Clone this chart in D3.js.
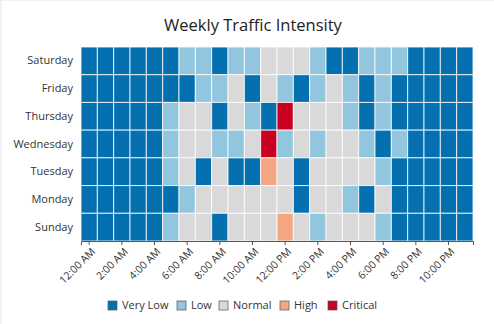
<!DOCTYPE html>
<html>
<head>
<meta charset="utf-8">
<script src="https://cdn.jsdelivr.net/npm/d3@7"></script>
<style>
  body { margin: 0; background: #fff; }
  #chart { width: 492px; height: 323px; border-left: 2px solid #eef3f6; border-top: 1px solid #eef3f6; }
  text { font-family: "Open Sans", "Noto Sans", sans-serif; }
</style>
</head>
<body>
<div id="chart"></div>
<script>
// rows top to bottom
const days = ['Saturday', 'Friday', 'Thursday', 'Wednesday', 'Tuesday', 'Monday', 'Sunday'];
const hours = ['12:00 AM', '1:00 AM', '2:00 AM', '3:00 AM', '4:00 AM', '5:00 AM', '6:00 AM', '7:00 AM',
  '8:00 AM', '9:00 AM', '10:00 AM', '11:00 AM', '12:00 PM', '1:00 PM', '2:00 PM', '3:00 PM',
  '4:00 PM', '5:00 PM', '6:00 PM', '7:00 PM', '8:00 PM', '9:00 PM', '10:00 PM', '11:00 PM'];
const levels = ['Very Low', 'Low', 'Normal', 'High', 'Critical'];
const levelColors = ['#0570b0', '#92c5de', '#d9d9d9', '#f4a582', '#ca0020'];

// intensity level index per hour, one array per day
const saturday  = [0,0,0,0,0,0,1,1,0,1,1,2,2,2,1,0,0,1,1,1,0,0,0,0];
const friday    = [0,0,0,0,0,0,0,1,1,2,0,2,1,0,1,2,1,0,1,0,0,0,0,0];
const thursday  = [0,0,0,0,0,1,2,2,0,2,1,0,4,2,2,2,1,0,1,0,0,0,0,0];
const wednesday = [0,0,0,0,0,1,2,2,1,1,2,4,1,2,1,2,2,1,0,1,0,0,0,0];
const tuesday   = [0,0,0,0,0,1,2,0,2,0,0,3,2,0,2,2,2,2,1,0,0,0,0,0];
const monday    = [0,0,0,0,0,0,1,2,2,2,2,2,2,0,2,2,1,0,2,0,0,0,0,0];
const sunday    = [0,0,0,0,0,1,2,2,0,2,2,2,3,2,1,2,2,2,1,0,0,0,0,0];
const rows = [saturday, friday, thursday, wednesday, tuesday, monday, sunday];

const cells = [];
rows.forEach((r, i) => r.forEach((v, j) => cells.push({day: days[i], hour: hours[j], level: v})));

const width = 492, height = 323;
const margin = {top: 46, right: 21, bottom: 83, left: 79};

const svg = d3.select('#chart').append('svg')
  .attr('width', width).attr('height', height);

const x = d3.scaleBand().domain(hours).range([margin.left, width - margin.right]);
const y = d3.scaleBand().domain(days).range([margin.top, height - margin.bottom]);
const color = d3.scaleOrdinal().domain(d3.range(levels.length)).range(levelColors);

svg.append('text')
  .attr('x', 251).attr('y', 30)
  .attr('text-anchor', 'middle')
  .attr('font-size', 16.5)
  .attr('fill', '#222')
  .text('Weekly Traffic Intensity');

svg.append('g')
  .selectAll('rect')
  .data(cells)
  .join('rect')
  .attr('x', d => x(d.hour))
  .attr('y', d => y(d.day))
  .attr('width', x.bandwidth())
  .attr('height', y.bandwidth())
  .attr('fill', d => color(d.level))
  .attr('stroke', '#fff')
  .attr('stroke-opacity', 0.8)
  .attr('stroke-width', 1);

// x axis, labelled every 2 hours
const xAxis = svg.append('g')
  .attr('transform', `translate(0,${height - margin.bottom})`)
  .call(d3.axisBottom(x).tickValues(hours.filter((h, i) => i % 2 === 0)).tickSizeOuter(0).tickSize(4));
xAxis.select('.domain').attr('stroke', '#555');
xAxis.selectAll('.tick line').attr('stroke', '#555');
xAxis.selectAll('text')
  .attr('font-size', 10.5)
  .attr('fill', '#333')
  .attr('text-anchor', 'end')
  .attr('dx', '-0.3em')
  .attr('dy', '0.55em')
  .attr('transform', 'rotate(-45)');

const yAxis = svg.append('g')
  .attr('transform', `translate(${margin.left},0)`)
  .call(d3.axisLeft(y).tickSize(0).tickPadding(8));
yAxis.select('.domain').remove();
yAxis.selectAll('text').attr('font-size', 11).attr('fill', '#333');

// legend
const legendX = [106, 175, 217, 278, 326];
const legend = svg.append('g')
  .selectAll('g')
  .data(levels)
  .join('g')
  .attr('transform', (d, i) => `translate(${legendX[i]},300)`);
legend.append('rect')
  .attr('width', 9).attr('height', 9)
  .attr('fill', (d, i) => levelColors[i])
  .attr('stroke', '#555').attr('stroke-opacity', 0.7);
legend.append('text')
  .attr('x', 14).attr('y', 4.5).attr('dy', '0.35em')
  .attr('font-size', 11).attr('fill', '#333')
  .text(d => d);
</script>
</body>
</html>
